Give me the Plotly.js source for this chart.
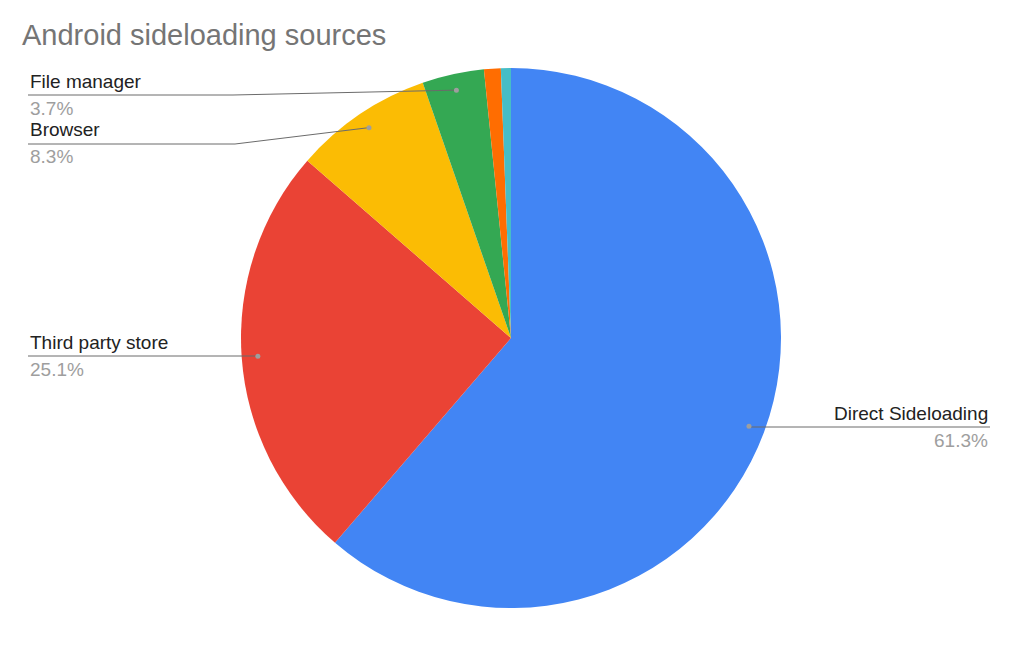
<!DOCTYPE html>
<html lang="en">
  <head>
    <meta charset="UTF-8" />
    <title>Android sideloading sources</title>
    <script src="https://cdn.plot.ly/plotly-3.0.1.min.js"></script>
    <style>
      body {
        margin: 0;
        background: #ffffff;
      }
      #chart {
        width: 1024px;
        height: 647px;
      }
    </style>
  </head>
  <body>
    <div id="chart"></div>
    <script>
      // data
      const sources = [
        "Direct Sideloading",
        "Third party store",
        "Browser",
        "File manager",
        "Other",
        "Unknown",
      ];
      const shares = [61.3, 25.1, 8.3, 3.7, 1.0, 0.6];
      const sliceColors = ["#4285f4", "#ea4335", "#fbbc04", "#34a853", "#ff6d01", "#46bdc6"];

      // where each callout sits (pixels), null = no label
      const labelSpots = [
        { side: "right", x: 990, lineY: 427, elbowX: null },
        { side: "left", x: 28, lineY: 356, elbowX: null },
        { side: "left", x: 28, lineY: 144, elbowX: 235 },
        { side: "left", x: 28, lineY: 95, elbowX: 233 },
        null,
        null,
      ];

      const W = 1024,
        H = 647;
      const cx = 511,
        cy = 338,
        R = 270;
      const px = (x) => x / W;
      const py = (y) => 1 - y / H;

      const total = shares.reduce((a, b) => a + b, 0);
      const shapes = [];
      const annotations = [];
      const font = '"Liberation Sans", Arial, sans-serif';

      let start = 0;
      shares.forEach((v, i) => {
        const mid = ((start + v / 2) / total) * 2 * Math.PI;
        start += v;
        const spot = labelSpots[i];
        if (!spot) return;

        const dx = cx + 0.94 * R * Math.sin(mid);
        const dy = cy - 0.94 * R * Math.cos(mid);
        const ex = spot.elbowX !== null ? spot.elbowX : dx;
        const pts = [
          [spot.x, spot.lineY],
          [ex, spot.lineY],
          [dx, spot.elbowX !== null ? dy : spot.lineY],
        ];
        for (let k = 0; k < pts.length - 1; k++) {
          shapes.push({
            type: "line",
            xref: "paper",
            yref: "paper",
            x0: px(pts[k][0]),
            y0: py(pts[k][1]),
            x1: px(pts[k + 1][0]),
            y1: py(pts[k + 1][1]),
            line: { color: "#6b6b6b", width: 1 },
          });
        }
        shapes.push({
          type: "circle",
          xref: "paper",
          yref: "paper",
          x0: px(dx - 2.5),
          x1: px(dx + 2.5),
          y0: py(dy - 2.5),
          y1: py(dy + 2.5),
          fillcolor: "#9e9e9e",
          line: { width: 0 },
        });

        const anchor = spot.side === "right" ? "right" : "left";
        annotations.push({
          xref: "paper",
          yref: "paper",
          x: px(spot.x),
          y: py(spot.lineY - 14),
          xanchor: anchor,
          yanchor: "middle",
          showarrow: false,
          text: sources[i],
          font: { family: font, size: 19, color: "#222222" },
        });
        annotations.push({
          xref: "paper",
          yref: "paper",
          x: px(spot.x),
          y: py(spot.lineY + 13),
          xanchor: anchor,
          yanchor: "middle",
          showarrow: false,
          text: ((v / total) * 100).toFixed(1) + "%",
          font: { family: font, size: 19, color: "#9e9e9e" },
        });
      });

      const trace = {
        type: "pie",
        labels: sources,
        values: shares,
        sort: false,
        direction: "clockwise",
        rotation: 0,
        textinfo: "none",
        hoverinfo: "label+percent",
        marker: { colors: sliceColors, line: { width: 0 } },
        domain: {
          x: [px(cx - R), px(cx + R)],
          y: [py(cy + R), py(cy - R)],
        },
        showlegend: false,
      };

      const layout = {
        width: W,
        height: H,
        margin: { l: 0, r: 0, t: 0, b: 0 },
        paper_bgcolor: "#ffffff",
        title: {
          text: "Android sideloading sources",
          xref: "container",
          yref: "container",
          x: 22 / W,
          xanchor: "left",
          y: 1 - 35 / H,
          yanchor: "middle",
          font: { family: font, size: 29, color: "#757575" },
        },
        shapes,
        annotations,
      };

      Plotly.newPlot("chart", [trace], layout, { displayModeBar: false, staticPlot: true });
    </script>
  </body>
</html>
